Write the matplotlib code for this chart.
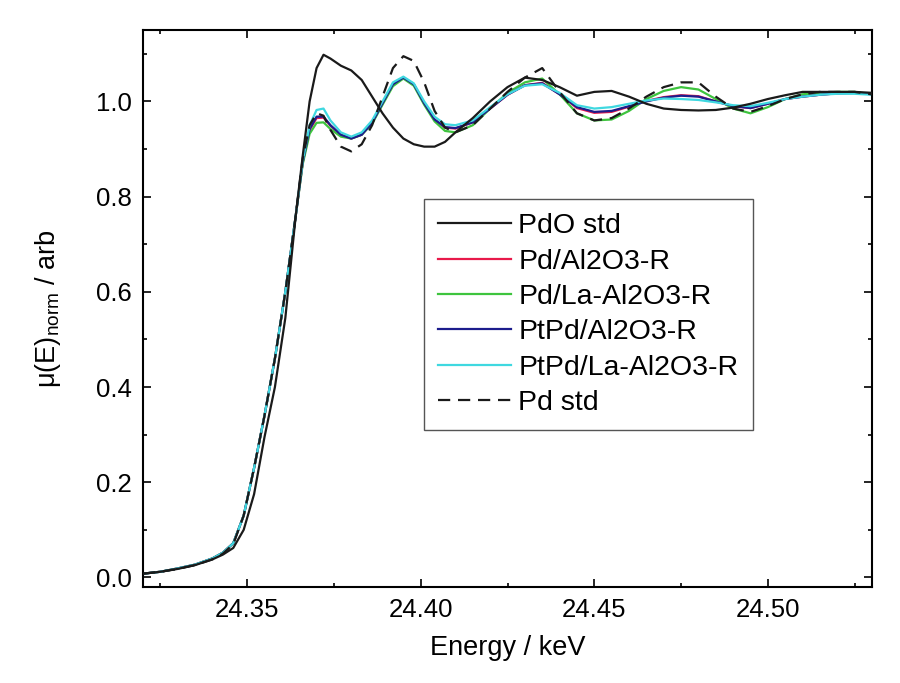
import numpy as np
import matplotlib
matplotlib.use('Agg')
import matplotlib.pyplot as plt
from matplotlib.ticker import MultipleLocator

plt.rcParams['font.family'] = ['Liberation Sans', 'DejaVu Sans']
plt.rcParams['mathtext.fontset'] = 'custom'
plt.rcParams['mathtext.rm'] = 'Liberation Sans'

# --- data ---
energy = [24.320, 24.325, 24.330, 24.335, 24.340, 24.343, 24.346, 24.349, 24.352, 24.355,
          24.358, 24.361, 24.364, 24.366, 24.368, 24.370, 24.372, 24.374, 24.377, 24.380,
          24.383, 24.386, 24.389, 24.392, 24.395, 24.398, 24.401, 24.404, 24.407, 24.410,
          24.415, 24.420, 24.425, 24.430, 24.435, 24.440, 24.445, 24.450, 24.455, 24.460,
          24.465, 24.470, 24.475, 24.480, 24.485, 24.490, 24.495, 24.500, 24.505, 24.510,
          24.515, 24.520, 24.525, 24.530]

pdo_std = [0.008, 0.012, 0.018, 0.026, 0.038, 0.048, 0.062, 0.100, 0.175, 0.295,
           0.400, 0.545, 0.760, 0.885, 1.000, 1.070, 1.098, 1.090, 1.075, 1.065,
           1.045, 1.010, 0.975, 0.945, 0.922, 0.910, 0.905, 0.905, 0.915, 0.935,
           0.965, 1.000, 1.030, 1.050, 1.045, 1.030, 1.012, 1.020, 1.022, 1.010,
           0.995, 0.985, 0.982, 0.981, 0.982, 0.987, 0.995, 1.005, 1.013, 1.020,
           1.020, 1.020, 1.020, 1.018]

pd_al2o3 = [0.008, 0.012, 0.019, 0.027, 0.040, 0.052, 0.072, 0.130, 0.230, 0.340,
            0.460, 0.600, 0.760, 0.871, 0.940, 0.965, 0.966, 0.949, 0.930, 0.922,
            0.930, 0.955, 0.996, 1.036, 1.050, 1.036, 0.996, 0.962, 0.945, 0.943,
            0.956, 0.985, 1.014, 1.034, 1.039, 1.015, 0.986, 0.976, 0.978, 0.989,
            1.001, 1.009, 1.013, 1.011, 1.000, 0.990, 0.986, 0.995, 1.005, 1.010,
            1.014, 1.017, 1.018, 1.015]

pd_la_al2o3 = [0.008, 0.012, 0.019, 0.027, 0.040, 0.052, 0.072, 0.130, 0.230, 0.340,
               0.460, 0.600, 0.760, 0.868, 0.932, 0.955, 0.956, 0.942, 0.926, 0.922,
               0.930, 0.953, 0.993, 1.032, 1.048, 1.033, 0.993, 0.958, 0.938, 0.935,
               0.950, 0.985, 1.018, 1.040, 1.048, 1.015, 0.975, 0.960, 0.962, 0.980,
               1.005, 1.022, 1.030, 1.025, 1.005, 0.985, 0.975, 0.988, 1.005, 1.015,
               1.018, 1.020, 1.020, 1.015]

ptpd_al2o3 = [0.008, 0.012, 0.019, 0.027, 0.040, 0.052, 0.072, 0.130, 0.230, 0.340,
              0.460, 0.600, 0.760, 0.872, 0.942, 0.968, 0.968, 0.950, 0.930, 0.922,
              0.930, 0.955, 0.996, 1.036, 1.050, 1.036, 0.996, 0.962, 0.946, 0.944,
              0.956, 0.985, 1.014, 1.034, 1.038, 1.015, 0.988, 0.978, 0.980, 0.990,
              1.000, 1.008, 1.012, 1.010, 1.000, 0.990, 0.986, 0.995, 1.005, 1.010,
              1.014, 1.017, 1.018, 1.015]

ptpd_la_al2o3 = [0.008, 0.012, 0.019, 0.027, 0.040, 0.052, 0.072, 0.130, 0.230, 0.340,
                 0.460, 0.600, 0.760, 0.875, 0.950, 0.982, 0.985, 0.960, 0.935, 0.926,
                 0.935, 0.960, 1.000, 1.040, 1.052, 1.038, 1.000, 0.968, 0.952, 0.950,
                 0.960, 0.988, 1.015, 1.033, 1.036, 1.018, 0.992, 0.985, 0.988, 0.995,
                 1.002, 1.006, 1.005, 1.003, 0.998, 0.992, 0.990, 0.997, 1.005, 1.010,
                 1.014, 1.016, 1.016, 1.014]

pd_std = [0.008, 0.012, 0.018, 0.026, 0.038, 0.050, 0.070, 0.130, 0.230, 0.340,
          0.460, 0.600, 0.760, 0.880, 0.950, 0.975, 0.970, 0.940, 0.905, 0.895,
          0.910, 0.950, 1.010, 1.070, 1.095, 1.085, 1.040, 0.980, 0.945, 0.935,
          0.950, 0.985, 1.020, 1.050, 1.070, 1.020, 0.975, 0.960, 0.965, 0.985,
          1.010, 1.030, 1.040, 1.040, 1.010, 0.985, 0.978, 0.990, 1.005, 1.015,
          1.020, 1.020, 1.020, 1.015]

labels = ['PdO std', 'Pd/Al2O3-R', 'Pd/La-Al2O3-R', 'PtPd/Al2O3-R', 'PtPd/La-Al2O3-R', 'Pd std']
colors = ['#1a1a1a', '#e8194a', '#3ec43e', '#1c1c8c', '#3fd8e0', '#1a1a1a']
series = [pdo_std, pd_al2o3, pd_la_al2o3, ptpd_al2o3, ptpd_la_al2o3, pd_std]

x_ticks = [24.35, 24.40, 24.45, 24.50]
y_ticks = [0.0, 0.2, 0.4, 0.6, 0.8, 1.0]

# --- figure ---
fig = plt.figure(figsize=(9, 6.83), dpi=100)
ax = fig.add_axes([143 / 900, 1 - 587 / 683, (872 - 143) / 900, (587 - 30) / 683])

handles = []
for i, (ys, lab, col) in enumerate(zip(series, labels, colors)):
    ls = (0, (5.5, 3.5)) if lab == 'Pd std' else '-'
    z = 3 if i in (0, 5) else 2
    h, = ax.plot(energy, ys, color=col, lw=1.6, ls=ls, label=lab, zorder=z)
    handles.append(h)

ax.set_xlim(24.32, 24.53)
ax.set_ylim(-0.02, 1.15)
ax.set_xticks(x_ticks)
ax.set_yticks(y_ticks)
ax.set_xticklabels([f"{t:.2f}" for t in x_ticks])
ax.set_yticklabels([f"{t:.1f}" for t in y_ticks])
ax.xaxis.set_minor_locator(MultipleLocator(0.025))
ax.yaxis.set_minor_locator(MultipleLocator(0.1))
ax.tick_params(which='both', direction='in', top=True, right=True, width=1.2)
ax.tick_params(which='major', length=6, labelsize=18.5, pad=8)
ax.tick_params(which='minor', length=3)
for sp in ax.spines.values():
    sp.set_linewidth(1.5)

ax.set_xlabel('Energy / keV', fontsize=19.5, labelpad=9)
ax.set_ylabel(r'μ(E)$_{\mathrm{norm}}$ / arb', fontsize=19.5, labelpad=24)

leg = ax.legend(handles=handles, loc='upper left', bbox_to_anchor=(424 / 900, 1 - 199 / 683),
                bbox_transform=fig.transFigure, borderaxespad=0, fontsize=20.5,
                frameon=True, fancybox=False, edgecolor='#555555', framealpha=1,
                handlelength=2.56, handletextpad=0.25, labelspacing=0.33, borderpad=0.5)
leg.get_frame().set_linewidth(1.0)

fig.savefig('out.png', dpi=100, facecolor='white')
